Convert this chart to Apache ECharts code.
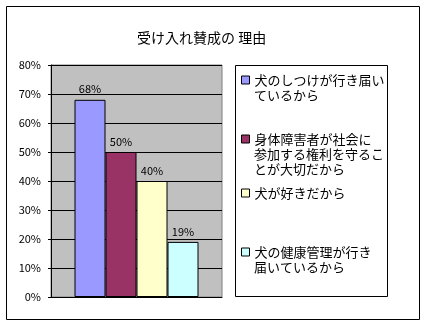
<!DOCTYPE html>
<html>
<head>
<meta charset="utf-8">
<script src="https://cdn.jsdelivr.net/npm/echarts@6/dist/echarts.min.js"></script>
<style>
  html, body { margin: 0; padding: 0; background: #fff; }
  #chart { width: 428px; height: 325px; }
</style>
</head>
<body>
<div id="chart"></div>
<script>
// data
var titleText = '受け入れ賛成の 理由'
var reasons = [
  '犬のしつけが行き届いているから',
  '身体障害者が社会に参加する権利を守ることが大切だから',
  '犬が好きだから',
  '犬の健康管理が行き届いているから'
]
// how the legend wraps each reason
var legendLines = [
  ['犬のしつけが行き届い', 'ているから'],
  ['身体障害者が社会に', '参加する権利を守るこ', 'とが大切だから'],
  ['犬が好きだから'],
  ['犬の健康管理が行き', '届いているから']
]
var values = [68, 50, 40, 19]
var colors = ['#9999FF', '#993366', '#FFFFCC', '#CCFFFF']
var yMin = 0, yMax = 80, yStep = 10

var font = '"Noto Sans CJK JP", sans-serif'
var lineH = 15
var iconSize = 8
var legendLeft = 241
// centre of the first text line of each legend item
var firstLineY = [80, 139, 193, 252]

var chart = echarts.init(document.getElementById('chart'), null, { renderer: 'canvas' })

var series = reasons.map(function (name, i) {
  return {
    type: 'bar',
    name: name,
    data: [values[i]],
    barWidth: 31,
    barGap: '0%',
    itemStyle: { color: colors[i], borderColor: '#000', borderWidth: 1 },
    label: {
      show: true,
      position: 'top',
      distance: 5,
      formatter: '{c}%',
      color: '#000',
      fontSize: 11,
      fontFamily: font
    },
    animation: false
  }
})

// one legend per item, showing the first line; the wrapped rest goes below as text
var legends = reasons.map(function (name, i) {
  return {
    data: [name],
    orient: 'vertical',
    left: legendLeft,
    top: firstLineY[i] - lineH / 2,
    padding: 0,
    icon: 'rect',
    itemWidth: iconSize,
    itemHeight: iconSize,
    selectedMode: false,
    itemStyle: { borderColor: '#000', borderWidth: 1 },
    formatter: function () { return legendLines[i][0] },
    textStyle: { color: '#000', fontSize: 13, fontFamily: font, lineHeight: lineH }
  }
})

var wrapTexts = []
legendLines.forEach(function (lines, i) {
  lines.slice(1).forEach(function (t, k) {
    wrapTexts.push({
      type: 'text',
      x: legendLeft + iconSize + 5,
      y: firstLineY[i] + (k + 1) * lineH,
      silent: true,
      style: {
        text: t,
        fill: '#000',
        font: '13px ' + font,
        verticalAlign: 'middle'
      }
    })
  })
})

var option = {
  backgroundColor: '#fff',
  animation: false,
  title: {
    text: titleText,
    left: 137,
    top: 31,
    padding: 0,
    textStyle: { color: '#000', fontSize: 14, fontWeight: 'normal', fontFamily: font }
  },
  legend: legends,
  grid: {
    left: 51,
    top: 65,
    width: 171,
    height: 232,
    show: true,
    backgroundColor: '#C0C0C0',
    borderColor: '#808080',
    borderWidth: 1,
    containLabel: false
  },
  xAxis: {
    type: 'category',
    data: [''],
    axisLine: { lineStyle: { color: '#000', width: 1 } },
    axisTick: { show: false },
    axisLabel: { show: false }
  },
  yAxis: {
    type: 'value',
    min: yMin,
    max: yMax,
    interval: yStep,
    axisLine: { show: true, lineStyle: { color: '#000', width: 1 } },
    axisTick: { show: true, length: 3, lineStyle: { color: '#000' } },
    axisLabel: {
      formatter: '{value}%',
      color: '#000',
      fontSize: 11,
      fontFamily: font,
      margin: 10
    },
    splitLine: { show: true, lineStyle: { color: '#000', width: 1 } }
  },
  graphic: [
    {
      type: 'rect',
      shape: { x: 235.5, y: 65.5, width: 152, height: 231 },
      style: { fill: 'none', stroke: '#000', lineWidth: 1 },
      silent: true
    },
    {
      type: 'rect',
      shape: { x: 6.5, y: 6.5, width: 413, height: 313 },
      style: { fill: 'none', stroke: '#000', lineWidth: 1 },
      silent: true
    }
  ].concat(wrapTexts),
  series: series
}

chart.setOption(option)
</script>
</body>
</html>
